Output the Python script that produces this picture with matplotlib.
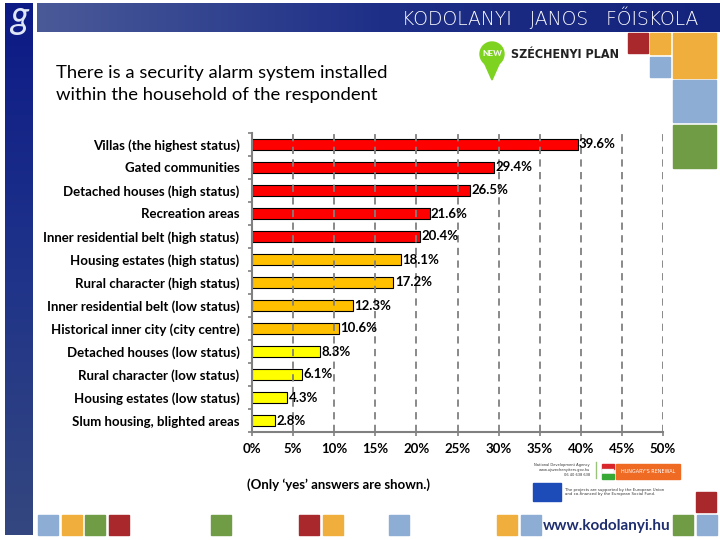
import numpy as np
import matplotlib
matplotlib.use('Agg')
import matplotlib.pyplot as plt
from matplotlib.patches import Rectangle, Circle, Polygon

categories = ['Villas (the highest status)', 'Gated communities', 'Detached houses (high status)',
              'Recreation areas', 'Inner residential belt (high status)', 'Housing estates (high status)',
              'Rural character (high status)', 'Inner residential belt (low status)',
              'Historical inner city (city centre)', 'Detached houses (low status)',
              'Rural character (low status)', 'Housing estates (low status)', 'Slum housing, blighted areas']
values = [39.6, 29.4, 26.5, 21.6, 20.4, 18.1, 17.2, 12.3, 10.6, 8.3, 6.1, 4.3, 2.8]
groups = ['high'] * 5 + ['mid'] * 4 + ['low'] * 4
xticks = [0, 5, 10, 15, 20, 25, 30, 35, 40, 45, 50]

title = 'There is a security alarm system installed\nwithin the household of the respondent'
note = '(Only \u2018yes\u2019 answers are shown.)'
group_col = {'high': '#FF0000', 'mid': '#FFC000', 'low': '#FFFF00'}

FONT = 'Lato'
fig = plt.figure(figsize=(7.2, 5.4), dpi=100)

# slide decoration layer (pixel coordinates)
deco = fig.add_axes([0, 0, 1, 1], zorder=0)
deco.set_xlim(0, 720)
deco.set_ylim(540, 0)
deco.axis('off')

# left bar and header with gradients
grad_v = np.linspace(0, 1, 256).reshape(-1, 1)
lb = matplotlib.colors.LinearSegmentedColormap.from_list('lb', ['#0c1a86', '#1f338a', '#34477f'])
deco.imshow(grad_v, extent=[5, 33, 535, 3], cmap=lb, aspect='auto', zorder=1)
grad_h = np.linspace(0, 1, 256).reshape(1, -1)
hd = matplotlib.colors.LinearSegmentedColormap.from_list('hd', ['#4a5a98', '#1e2f88', '#14237c'])
deco.imshow(grad_h, extent=[37, 720, 32, 3], cmap=hd, aspect='auto', zorder=1)
deco.text(19, 17, 'g', color='#dfe6f5', fontsize=27, fontstyle='italic', family=FONT,
          fontweight='normal', ha='center', va='center', zorder=3)
deco.text(698, 18, 'KODOLANYI   JANOS   F\u0150ISKOLA', color='white', fontsize=13.5,
          family='DejaVu Sans', fontweight='light', ha='right', va='center', zorder=3)

red, orange, blue, green = '#a8282b', '#f0ae3c', '#8eadd4', '#6f9c45'
squares = [(628, 33, 20, 20, red), (650, 33, 20, 21, orange), (650, 57, 20, 20, blue),
           (673, 33, 43, 45, orange), (673, 80, 43, 42, blue), (673, 125, 43, 43, green),
           (38, 515, 20, 20, blue), (62, 515, 20, 20, orange), (85, 515, 20, 20, green),
           (109, 515, 20, 20, red), (211, 515, 20, 20, green), (299, 515, 20, 20, red),
           (323, 515, 20, 20, orange), (389, 515, 20, 20, blue), (497, 515, 20, 20, orange),
           (521, 515, 20, 20, blue), (673, 515, 20, 20, green), (697, 515, 20, 20, blue),
           (696, 492, 20, 20, red)]
for x, y, w, h, c in squares:
    deco.add_patch(Rectangle((x, y), w, h, color=c, zorder=2))

# New Szechenyi Plan logo
deco.add_patch(Polygon([[484, 62], [500, 62], [492, 80]], color='#7ed321', zorder=2))
deco.add_patch(Circle((492, 54), 12, color='#7ed321', zorder=3))
deco.text(492, 54, 'NEW', color='white', fontsize=6, fontweight='bold', ha='center', va='center',
          family=FONT, zorder=4)
deco.text(511, 54, 'SZÉCHENYI PLAN', color='#222222', fontsize=9, fontweight='bold',
          family='DejaVu Sans', fontstretch='condensed', ha='left', va='center', zorder=3)

# footer logos
deco.text(590, 470, 'National Development Agency\nwww.ujszechenyiterv.gov.hu\n06 40 638 638',
          fontsize=2.6, ha='right', va='center', color='#333333', zorder=3)
deco.plot([596, 596], [462, 478], color='#9bc27a', lw=1, zorder=3)
deco.add_patch(Rectangle((602, 464), 12, 5, color='#d8262b', zorder=3))
deco.add_patch(Rectangle((602, 469), 12, 5, color='white', ec='#cccccc', lw=0.3, zorder=3))
deco.add_patch(Rectangle((602, 474), 12, 5, color='#39a935', zorder=3))
deco.add_patch(Rectangle((616, 464), 64, 15, color='#ef6a23', zorder=3))
deco.text(648, 471.5, "HUNGARY'S RENEWAL", fontsize=3.5, color='white', ha='center', va='center', zorder=4)
deco.add_patch(Rectangle((533, 483), 28, 18, color='#1d4bb8', zorder=3))
deco.text(565, 492, 'The projects are supported by the European Union\nand co-financed by the European Social Fund.',
          fontsize=2.8, ha='left', va='center', color='#333333', zorder=3)
deco.text(607, 526, 'www.kodolanyi.hu', fontsize=11, fontweight='bold', color='#1f2e6e',
          family=FONT, ha='center', va='center', zorder=3)

# title and note
fig.text(56 / 720, 1 - 84 / 540, title, fontsize=13.3, family=FONT, color='black',
         ha='left', va='center', linespacing=1.5)
fig.text(247 / 720, 1 - 485 / 540, note, fontsize=9.5, family=FONT, fontweight='bold',
         ha='left', va='center')

# chart
ax = fig.add_axes([252 / 720, 108 / 540, 411 / 720, 299 / 540], zorder=2)
ax.patch.set_alpha(0)
y = np.arange(len(categories))
bars = ax.barh(y, values, height=0.5, color=[group_col[g] for g in groups],
               edgecolor='black', linewidth=0.8, zorder=2)
for yi, v in zip(y, values):
    ax.annotate(f'{v:.1f}%', (v, yi), xytext=(1, 0), textcoords='offset points',
                va='center', ha='left', fontsize=9.5, fontweight='bold', family=FONT, zorder=4)

ax.set_xlim(0, 50)
ax.set_ylim(len(categories) - 0.5, -0.5)
ax.set_xticks(xticks)
ax.set_xticklabels([f'{t}%' for t in xticks], family=FONT, fontsize=9.5, fontweight='bold')
ax.set_yticks(y)
ax.set_yticklabels(categories, family=FONT, fontsize=9.5, fontweight='bold')
ax.set_yticks(np.arange(-0.5, len(categories), 1), minor=True)
ax.tick_params(axis='y', which='major', length=0, pad=9)
ax.tick_params(axis='y', which='minor', length=3, color='#808080', width=1.2, direction='out')
ax.tick_params(axis='x', length=3, color='#808080', width=1.2, direction='out', pad=5)
ax.grid(axis='x', color='#808080', linestyle=(0, (4, 3)), linewidth=1.3, zorder=3)
ax.set_axisbelow(False)
for s in ['top', 'right']:
    ax.spines[s].set_visible(False)
for s in ['left', 'bottom']:
    ax.spines[s].set_color('#808080')
    ax.spines[s].set_linewidth(1.5)

fig.savefig('out.png', dpi=100)
